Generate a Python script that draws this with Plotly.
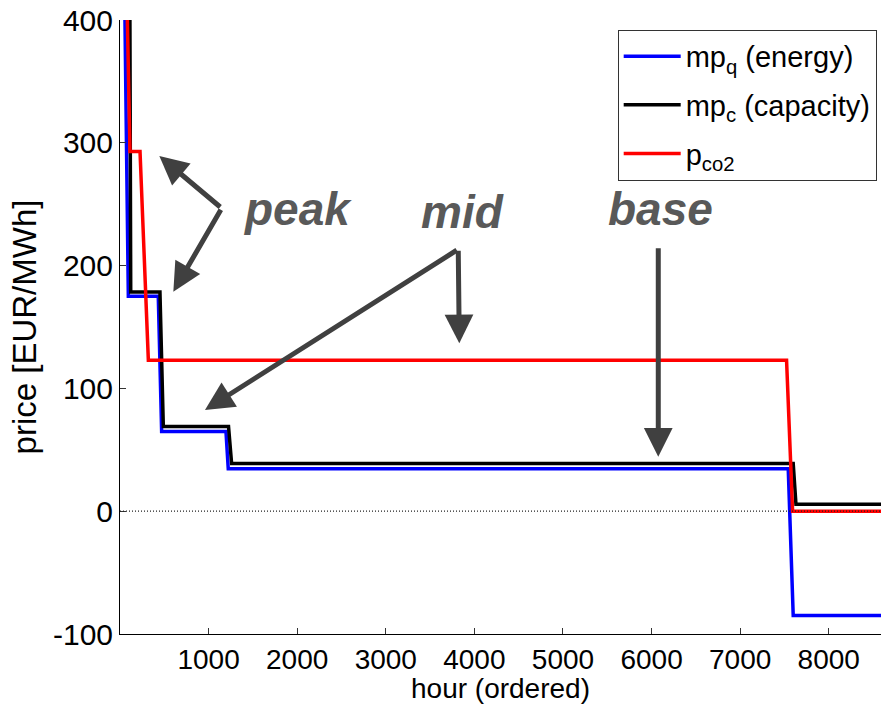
import plotly.graph_objects as go

# ---- data ----
hours_q = [56, 94, 432, 470, 1196, 1222, 7543, 7599, 8760]
mp_q = [400, 175, 175, 65, 65, 34.5, 34.5, -85, -85]

hours_c = [112, 121, 451, 489, 1225, 1260, 7599, 7630, 8760]
mp_c = [400, 178.6, 178.6, 69, 69, 38.8, 38.8, 5.7, 5.7]

hours_co2 = [83, 113, 226, 320, 7524, 7592, 8760]
p_co2 = [400, 293, 293, 123, 123, 0, 0]

x_ticks = [1000, 2000, 3000, 4000, 5000, 6000, 7000, 8000]
y_ticks = [-100, 0, 100, 200, 300, 400]
y_ticklabels = ["-100", "0", "100", "200", "300", "400"]

labels = ["peak", "mid", "base"]
label_pos = [(2009, 246.5), (3866, 243.8), (6104, 246.5)]
# arrows: (tail_x, tail_y, head_x, head_y)
arrows = [
    (1148, 246.7, 444, 289.3),
    (1148, 246.7, 602, 178.7),
    (3818, 213.3, 959, 82.4),
    (3818, 213.3, 3830, 136.7),
    (6076, 215.4, 6076, 44.4),
]

FONT = "Liberation Sans, Arial, sans-serif"

fig = go.Figure()
fig.add_trace(go.Scatter(x=hours_q, y=mp_q, mode="lines",
                         name="mp<sub>q</sub> (energy)", legendgroup="a",
                         line=dict(color="#0000ff", width=3.5)))
fig.add_trace(go.Scatter(x=hours_c, y=mp_c, mode="lines",
                         name="mp<sub>c</sub> (capacity)", legendgroup="b",
                         line=dict(color="#000000", width=3.5)))
fig.add_trace(go.Scatter(x=hours_co2, y=p_co2, mode="lines",
                         name="p<sub>co2</sub>", legendgroup="c",
                         line=dict(color="#ff0000", width=3.5)))

# zero reference line (dotted)
fig.add_shape(type="line", xref="paper", x0=0, x1=1, yref="y", y0=0, y1=0,
              line=dict(color="#222222", width=1.2, dash="1px,2px"), layer="above")

for (tx, ty, hx, hy) in arrows:
    fig.add_annotation(x=hx, y=hy, ax=tx, ay=ty, xref="x", yref="y",
                       axref="x", ayref="y", text="", showarrow=True,
                       arrowhead=2, arrowsize=1.15, arrowwidth=5,
                       arrowcolor="#404040", standoff=0, startstandoff=0)

for lab, (lx, ly) in zip(labels, label_pos):
    fig.add_annotation(x=lx, y=ly, xref="x", yref="y", text=f"<b><i>{lab}</i></b>",
                       showarrow=False, font=dict(family=FONT, size=46, color="#595959"),
                       xanchor="center", yanchor="middle")

fig.update_layout(
    width=881, height=704,
    margin=dict(l=120, r=0, t=20, b=70),
    paper_bgcolor="white", plot_bgcolor="white",
    font=dict(family=FONT, size=28, color="black"),
    showlegend=True,
    legend=dict(x=0.654, y=0.984, xanchor="left", yanchor="top",
                bgcolor="white", bordercolor="#333333", borderwidth=1,
                font=dict(family=FONT, size=29, color="black"),
                tracegroupgap=8, itemwidth=57),
    xaxis=dict(range=[0, 8590], tickvals=x_ticks, ticks="inside", ticklen=6,
               tickcolor="#333", showline=True, linecolor="black", linewidth=1,
               showgrid=False, zeroline=False, mirror=False,
               tickfont=dict(size=28),
               title=dict(text="hour (ordered)", font=dict(size=28), standoff=2)),
    yaxis=dict(range=[-100, 400], tickvals=y_ticks, ticktext=y_ticklabels,
               ticks="inside", ticklen=6, tickcolor="#333",
               showline=True, linecolor="black", linewidth=1,
               showgrid=False, zeroline=False,
               tickfont=dict(size=30),
               title=dict(text="price [EUR/MWh]", font=dict(size=33), standoff=6)),
)

fig.write_html("out.html")
